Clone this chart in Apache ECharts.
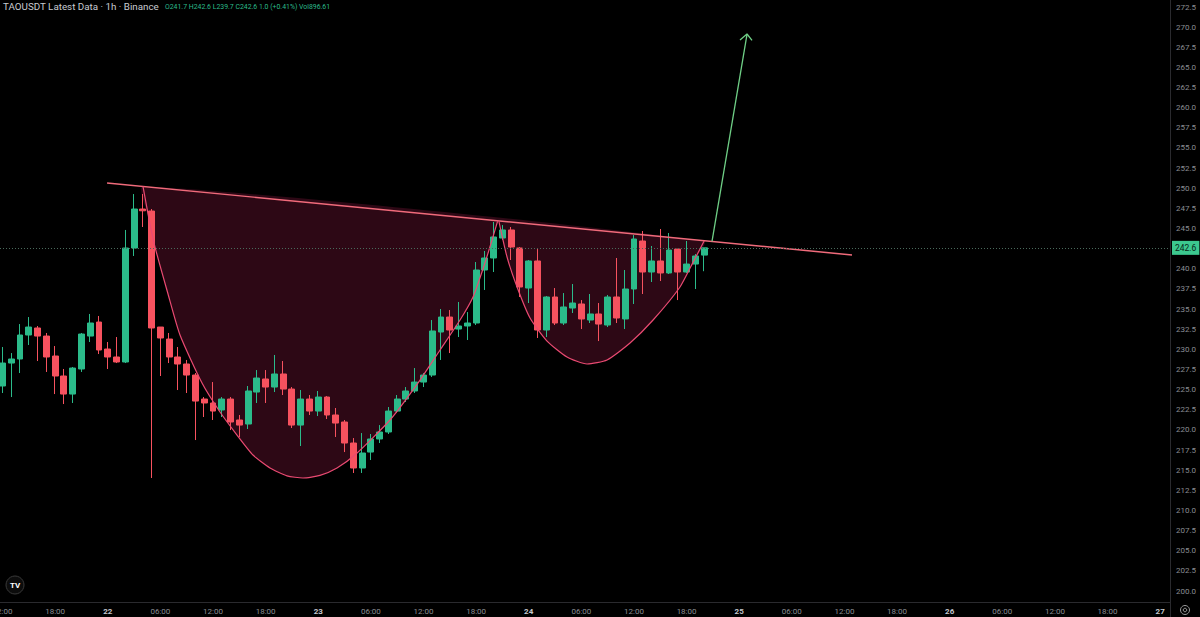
<!DOCTYPE html>
<html><head><meta charset="utf-8">
<script src="https://cdn.jsdelivr.net/npm/echarts@6/dist/echarts.min.js"></script>
<style>html,body{margin:0;padding:0;background:#000;}#c{width:1200px;height:617px;}</style>
</head><body><div id="c"></div>
<script>
// hourly candles, index 0 = 21 12:00 (Binance TAOUSDT 1h)
const opens  = [225.45,228.30,228.80,231.78,232.65,231.65,229.17,226.69,224.45,227.56,231.65,233.39,230.04,229.05,228.43,242.58,247.42,247.17,232.77,231.28,229.05,228.18,226.81,223.83,223.34,222.47,223.83,221.23,220.73,224.70,226.32,225.32,226.94,225.07,220.60,223.83,222.34,224.08,221.85,220.98,218.37,215.27,217.25,218.87,219.74,222.34,223.83,224.83,225.94,226.81,232.15,234.01,232.52,232.90,233.27,239.85,241.34,243.82,244.82,242.58,237.61,240.97,232.40,236.50,233.27,235.13,235.63,233.64,234.39,233.02,236.50,233.77,237.49,243.45,239.60,240.97,239.48,242.45,239.60,240.59,241.7];
const closes = [228.30,228.80,231.78,232.77,231.65,229.05,226.69,224.45,227.68,231.90,233.27,229.92,229.05,228.43,242.58,247.42,247.20,232.65,231.41,229.05,228.18,226.81,223.58,223.34,222.34,223.83,220.98,220.60,224.83,226.44,225.32,226.94,225.07,220.60,223.83,222.34,224.08,221.85,220.85,218.37,215.27,217.13,218.87,219.74,222.34,223.83,224.83,225.94,226.81,232.28,234.01,232.40,232.90,233.27,239.85,241.34,243.95,244.82,242.70,237.74,240.97,232.40,236.50,233.27,235.26,235.75,233.77,234.39,233.14,236.50,233.89,237.49,243.70,239.60,240.97,239.48,242.33,239.60,240.59,241.59,242.6];
const lows   = [224.58,224.08,227.06,230.54,228.55,227.19,224.45,223.21,223.34,227.19,230.91,229.42,227.56,228.30,228.30,241.59,245.19,214.03,226.69,228.30,224.95,224.58,218.74,221.60,221.23,221.60,219.98,219.12,220.11,223.34,223.34,224.70,224.33,220.23,218.00,221.85,221.72,221.35,219.12,217.25,214.65,214.65,216.26,218.37,219.49,222.10,223.46,224.58,225.32,226.57,228.68,229.54,231.53,231.16,233.02,237.37,239.60,243.57,241.09,236.50,235.75,231.41,231.53,233.02,233.02,234.51,232.52,233.27,231.03,232.77,233.27,232.52,235.63,236.87,238.36,238.48,239.35,236.12,239.48,237.49,239.7];
const highs  = [230.29,229.54,233.14,234.01,232.90,232.03,230.41,227.56,227.81,232.03,234.39,234.14,230.91,231.53,244.82,249.28,249.28,247.42,232.77,232.03,230.29,228.68,227.06,224.08,225.94,224.08,224.08,221.85,225.45,227.43,227.43,229.30,228.55,225.32,224.95,224.33,224.83,224.20,222.72,221.23,218.99,219.61,219.49,220.60,222.84,224.33,225.32,227.68,227.06,233.64,235.01,234.88,235.88,234.63,240.84,242.21,245.81,245.43,245.19,242.70,241.09,242.45,236.62,237.61,236.99,238.11,236.12,236.87,235.75,236.75,241.34,239.85,244.19,244.69,242.83,244.94,244.44,242.45,243.45,241.83,242.6];

// time axis ticks (hour index from 21 12:00)
const xTickValues = [0,6,12,18,24,30,36,42,48,54,60,66,72,78,84,90,96,102,108,114,120,126,132];
const xTickLabels = ['12:00','18:00','22','06:00','12:00','18:00','23','06:00','12:00','18:00','24','06:00','12:00','18:00','25','06:00','12:00','18:00','26','06:00','12:00','18:00','27'];
const yTickValues = [200,202.5,205,207.5,210,212.5,215,217.5,220,222.5,225,227.5,230,232.5,235,237.5,240,242.5,245,247.5,250,252.5,255,257.5,260,262.5,265,267.5,270,272.5];
const lastPrice = 242.6;

// drawing annotations in [hour index, price]
const resistance = [[11.92,250.65],[96.86,241.71]];
const cupLeft = [[16.02,250.22],[16.7,246.2],[17.39,242.70],[18.81,237.12],[20.24,231.78],[22.75,225.82],[24.80,222.22],[26.74,219.36],[28.56,216.88],[30.50,215.27],[32.44,214.30],[34.26,214.03],[36.20,214.35],[38.14,215.27],[40.3,217.0],[44.18,221.23],[47.61,226.19],[49.89,229.92],[52.17,233.64],[53.65,236.50],[54.79,240.0],[55.83,243.6],[56.45,245.9]];
const cupHandle = [[56.6,245.9],[57.53,241.46],[58.67,237.74],[60.15,233.89],[62.09,231.03],[64.37,229.05],[66.65,228.18],[68.93,228.68],[71.55,230.79],[74.18,233.64],[77.25,237.74],[78.73,240.8],[80.0,243.44]];
const arrowShaft = [[80.9,243.4],[84.89,269.1]];
const arrowHead = [[84.09,268.40],[84.89,269.15],[85.46,268.35]];

const candles = opens.map((o, i) => [i, o, closes[i], lows[i], highs[i]]);
const polygon = cupLeft.concat(cupHandle);

const UP = '#2bbb8a', DOWN = '#f7525f';
const chart = echarts.init(document.getElementById('c'), null, {renderer: 'svg'});
chart.setOption({
  backgroundColor: '#000000',
  animation: false,
  grid: {left: 0, right: 30, top: 7, bottom: 26, containLabel: false, outerBoundsMode: 'none'},
  xAxis: {
    type: 'value', min: -0.285, max: 133.12, offset: 11,
    axisLine: {show: false}, axisTick: {show: false}, splitLine: {show: false},
    axisLabel: {
      customValues: xTickValues, margin: 5, color: '#8a8d93', fontSize: 8, fontFamily: 'Roboto',
      formatter: function (v) {
        const k = xTickValues.indexOf(Math.round(v));
        if (k < 0) return '';
        const t = xTickLabels[k];
        return t.indexOf(':') < 0 ? '{d|' + t + '}' : t;
      },
      rich: {d: {fontWeight: 'bold', color: '#c4c6cc', fontSize: 8, fontFamily: 'Roboto'}}
    }
  },
  yAxis: {
    type: 'value', position: 'right', min: 200, max: 272.5, interval: 2.5,
    axisLine: {show: false}, axisTick: {show: false}, splitLine: {show: false},
    axisLabel: {
      customValues: yTickValues, margin: 6, color: '#8a8d93', fontSize: 8, fontFamily: 'Roboto',
      formatter: v => v.toFixed(1)
    }
  },
  series: [
    {
      type: 'custom', z: 1, silent: true, data: [0],
      renderItem: function (params, api) {
        return {type: 'polygon', shape: {points: polygon.map(p => api.coord(p)), smooth: 0.2},
          style: {fill: 'rgba(240,45,110,0.19)', stroke: 'none'}};
      }
    },
    {
      type: 'candlestick', z: 2, barWidth: 6.4, data: candles,
      encode: {x: 0, y: [1, 2, 3, 4]},
      itemStyle: {color: UP, color0: DOWN, borderColor: UP, borderColor0: DOWN, borderWidth: 1},
      markLine: {
        silent: true, symbol: ['none', 'none'],
        lineStyle: {type: [1, 2], color: '#4a6a5c', width: 1},
        label: {show: true, position: 'end', formatter: lastPrice.toFixed(1), distance: 2,
          backgroundColor: '#3cc88f', color: '#08281a', padding: [3, 3, 2, 3], fontSize: 8.5, fontFamily: 'Roboto'},
        data: [{yAxis: lastPrice}]
      }
    },
    {type: 'line', z: 3, data: resistance, symbol: 'none', silent: true,
      lineStyle: {color: '#f06b7b', width: 1.4}},
    {type: 'line', z: 3, data: cupLeft, symbol: 'none', silent: true, smooth: 0.2,
      lineStyle: {color: '#ea4a72', width: 1.2}},
    {type: 'line', z: 3, data: cupHandle, symbol: 'none', silent: true, smooth: 0.2,
      lineStyle: {color: '#ea4a72', width: 1.2}},
    {type: 'line', z: 3, data: arrowShaft, symbol: 'none', silent: true,
      lineStyle: {color: '#6fcf86', width: 1.3}},
    {type: 'line', z: 3, data: arrowHead, symbol: 'none', silent: true,
      lineStyle: {color: '#6fcf86', width: 1.3}}
  ],
  graphic: [
    {type: 'line', shape: {x1: 1170.5, y1: 0, x2: 1170.5, y2: 617}, style: {stroke: '#2a2a2e', lineWidth: 1}, silent: true},
    {type: 'line', shape: {x1: 0, y1: 602.5, x2: 1170.5, y2: 602.5}, style: {stroke: '#2a2a2e', lineWidth: 1}, silent: true},
    {type: 'text', left: 3, top: 1, style: {text: 'TAOUSDT Latest Data · 1h · Binance', fill: '#c8cad0', fontSize: 9.8, fontFamily: 'Roboto'}},
    {type: 'text', left: 165, top: 3, style: {text: 'O241.7 H242.6 L239.7 C242.6 1.0 (+0.41%) Vol896.61', fill: '#2bbb8a', fontSize: 6.9, fontFamily: 'Roboto'}},
    {type: 'circle', shape: {cx: 15, cy: 585, r: 9}, style: {fill: '#0c0c0c', stroke: '#3a3a3a', lineWidth: 1}, silent: true},
    {type: 'text', x: 15, y: 585, style: {text: 'TV', fill: '#ffffff', fontSize: 8, fontWeight: 'bold', fontFamily: 'Roboto', align: 'center', verticalAlign: 'middle'}},
    {type: 'circle', shape: {cx: 1185, cy: 610, r: 4.5}, style: {fill: 'none', stroke: '#9a9a9a', lineWidth: 1}, silent: true},
    {type: 'circle', shape: {cx: 1185, cy: 610, r: 1.8}, style: {fill: 'none', stroke: '#9a9a9a', lineWidth: 1}, silent: true}
  ]
});
</script></body></html>
